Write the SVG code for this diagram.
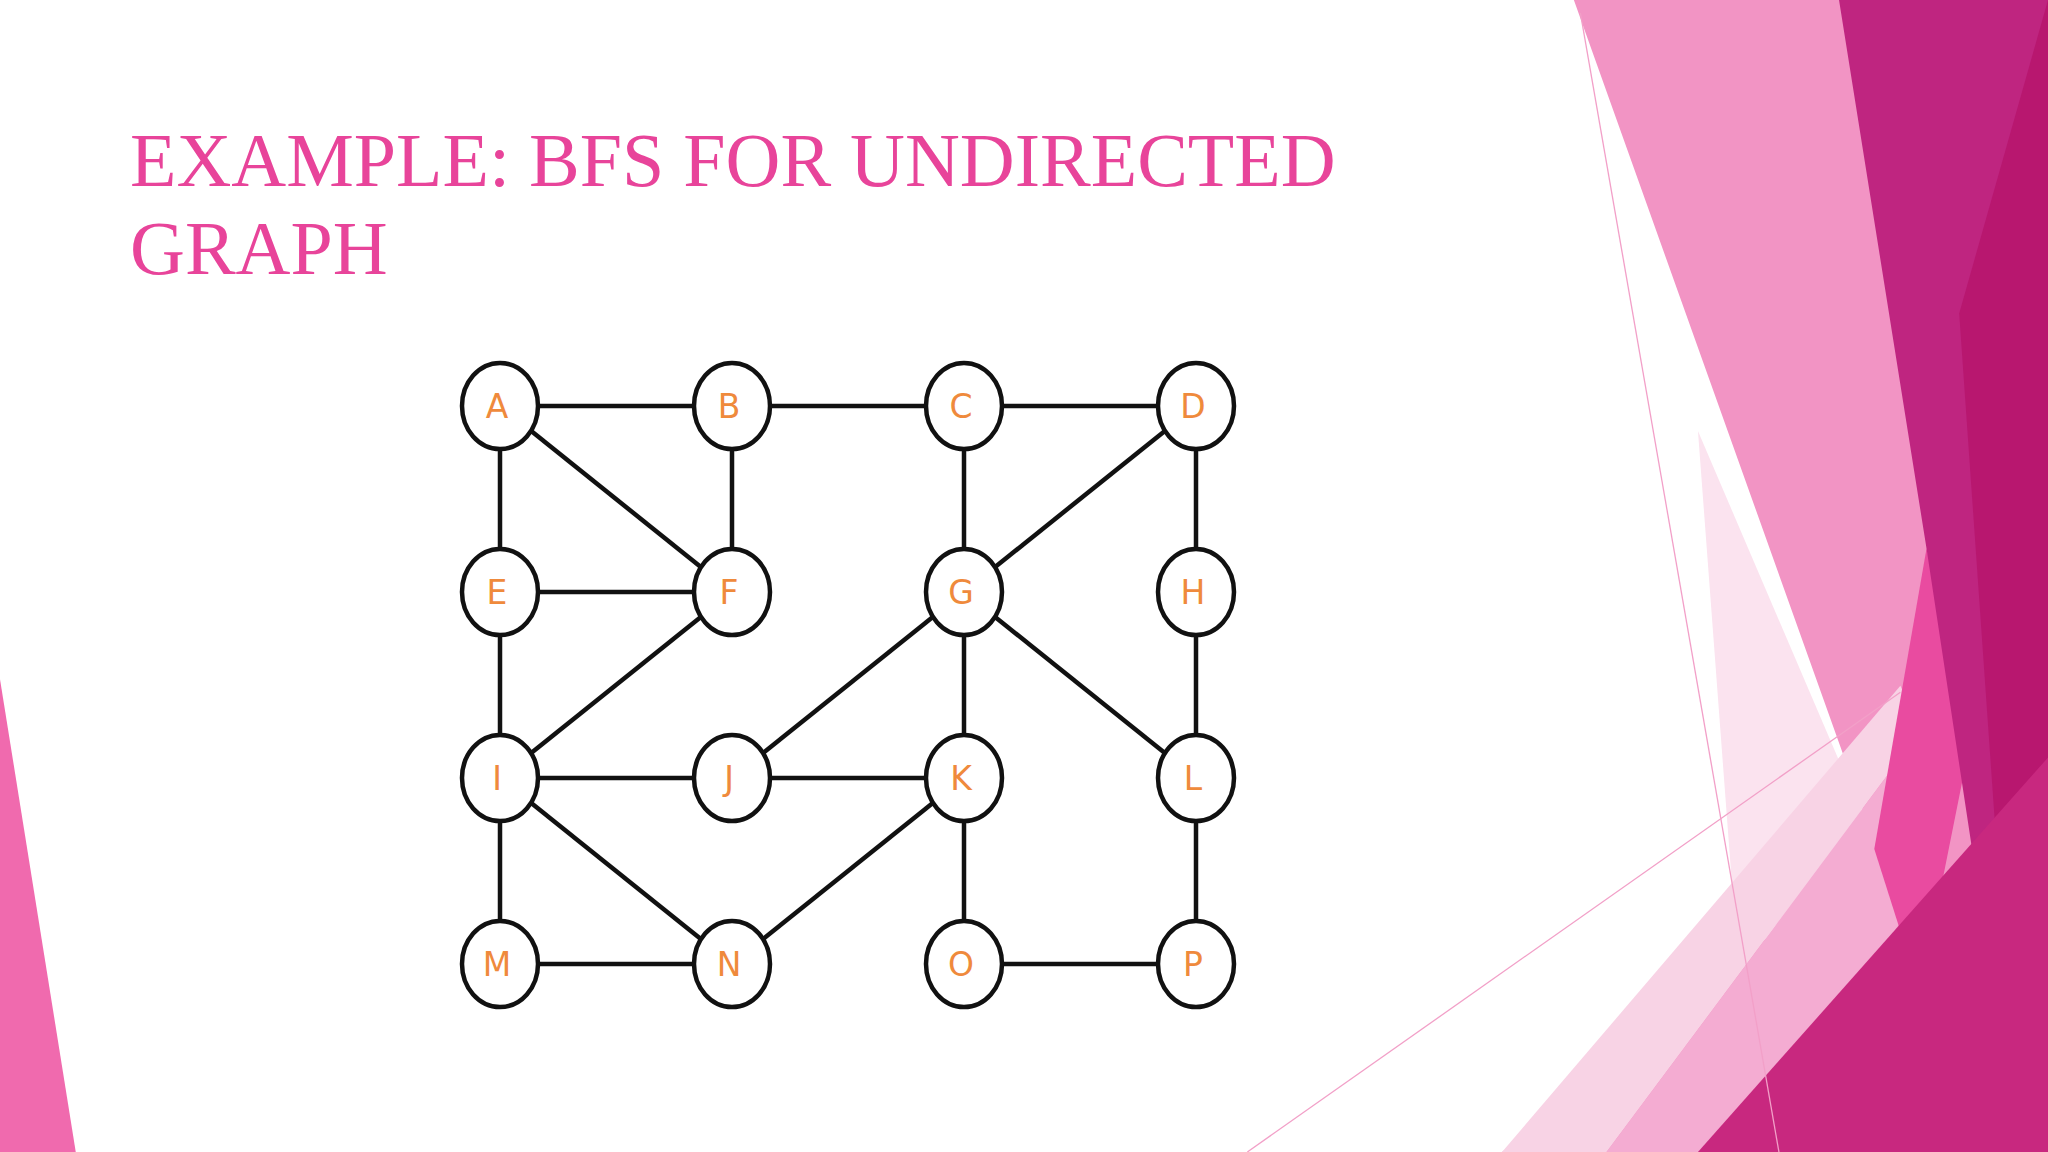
<svg xmlns="http://www.w3.org/2000/svg" width="2048" height="1152" viewBox="0 0 2048 1152">
<style>
.e line{stroke:#111;stroke-width:4.5}
.n ellipse{fill:#fff;stroke:#111;stroke-width:4.5}
.n text{font-family:"DejaVu Sans",sans-serif;font-size:33px;fill:#ef8a3c;text-anchor:middle;dominant-baseline:central}
.t{font-family:"Liberation Serif",serif;font-size:76px;fill:#e8449a}
</style>
<rect width="2048" height="1152" fill="#fff"/>
<g transform="scale(1.30612)">
<polygon points="0,520 0,882 58,882" fill="#f06aae"/>
<polygon points="1205,0 1568,0 1568,882 1150,882 1437,650" fill="#f294c4"/>
<polygon points="1300,330 1437,650 1330,730" fill="#fbe3ef"/>
<polygon points="1150,882 1455,525 1470,560 1230,882" fill="#f8d3e5"/>
<polygon points="1230,882 1470,560 1490,640 1360,882" fill="#f4acd2"/>
<polygon points="1435,650 1475,420 1510,560 1470,760" fill="#e94ba0"/>
<polygon points="1408,0 1568,0 1568,882 1545,882 1475,420" fill="#bf2580"/>
<polygon points="1500,240 1568,0 1568,882 1545,882" fill="#b8176f"/>
<polygon points="1300,882 1568,580 1568,882" fill="#c8287f"/>
<line x1="1210" y1="10" x2="1362" y2="882" stroke="#f2a0c8" stroke-width="1"/>
<line x1="955" y1="882" x2="1455" y2="530" stroke="#f2a0c8" stroke-width="1"/>
</g>
<text class="t" x="130" y="186">EXAMPLE: BFS FOR UNDIRECTED</text>
<text class="t" x="130" y="274">GRAPH</text>
<g id="connectors" class="e">
<line x1="500" y1="406" x2="732" y2="406"/>
<line x1="732" y1="406" x2="964" y2="406"/>
<line x1="964" y1="406" x2="1196" y2="406"/>
<line x1="500" y1="406" x2="500" y2="592"/>
<line x1="500" y1="406" x2="732" y2="592"/>
<line x1="732" y1="406" x2="732" y2="592"/>
<line x1="964" y1="406" x2="964" y2="592"/>
<line x1="1196" y1="406" x2="964" y2="592"/>
<line x1="1196" y1="406" x2="1196" y2="592"/>
<line x1="500" y1="592" x2="732" y2="592"/>
<line x1="500" y1="592" x2="500" y2="778"/>
<line x1="732" y1="592" x2="500" y2="778"/>
<line x1="964" y1="592" x2="732" y2="778"/>
<line x1="964" y1="592" x2="964" y2="778"/>
<line x1="964" y1="592" x2="1196" y2="778"/>
<line x1="1196" y1="592" x2="1196" y2="778"/>
<line x1="500" y1="778" x2="732" y2="778"/>
<line x1="732" y1="778" x2="964" y2="778"/>
<line x1="500" y1="778" x2="500" y2="964"/>
<line x1="500" y1="778" x2="732" y2="964"/>
<line x1="964" y1="778" x2="732" y2="964"/>
<line x1="964" y1="778" x2="964" y2="964"/>
<line x1="1196" y1="778" x2="1196" y2="964"/>
<line x1="500" y1="964" x2="732" y2="964"/>
<line x1="964" y1="964" x2="1196" y2="964"/>
</g>
<g class="n">
<g id="A"><ellipse cx="500" cy="406" rx="38" ry="43"/><text x="497" y="406">A</text></g>
<g id="B"><ellipse cx="732" cy="406" rx="38" ry="43"/><text x="729" y="406">B</text></g>
<g id="C"><ellipse cx="964" cy="406" rx="38" ry="43"/><text x="961" y="406">C</text></g>
<g id="D"><ellipse cx="1196" cy="406" rx="38" ry="43"/><text x="1193" y="406">D</text></g>
<g id="E"><ellipse cx="500" cy="592" rx="38" ry="43"/><text x="497" y="592">E</text></g>
<g id="F"><ellipse cx="732" cy="592" rx="38" ry="43"/><text x="729" y="592">F</text></g>
<g id="G"><ellipse cx="964" cy="592" rx="38" ry="43"/><text x="961" y="592">G</text></g>
<g id="H"><ellipse cx="1196" cy="592" rx="38" ry="43"/><text x="1193" y="592">H</text></g>
<g id="I"><ellipse cx="500" cy="778" rx="38" ry="43"/><text x="497" y="778">I</text></g>
<g id="J"><ellipse cx="732" cy="778" rx="38" ry="43"/><text x="729" y="778">J</text></g>
<g id="K"><ellipse cx="964" cy="778" rx="38" ry="43"/><text x="961" y="778">K</text></g>
<g id="L"><ellipse cx="1196" cy="778" rx="38" ry="43"/><text x="1193" y="778">L</text></g>
<g id="M"><ellipse cx="500" cy="964" rx="38" ry="43"/><text x="497" y="964">M</text></g>
<g id="N"><ellipse cx="732" cy="964" rx="38" ry="43"/><text x="729" y="964">N</text></g>
<g id="O"><ellipse cx="964" cy="964" rx="38" ry="43"/><text x="961" y="964">O</text></g>
<g id="P"><ellipse cx="1196" cy="964" rx="38" ry="43"/><text x="1193" y="964">P</text></g>
</g>
</svg>
